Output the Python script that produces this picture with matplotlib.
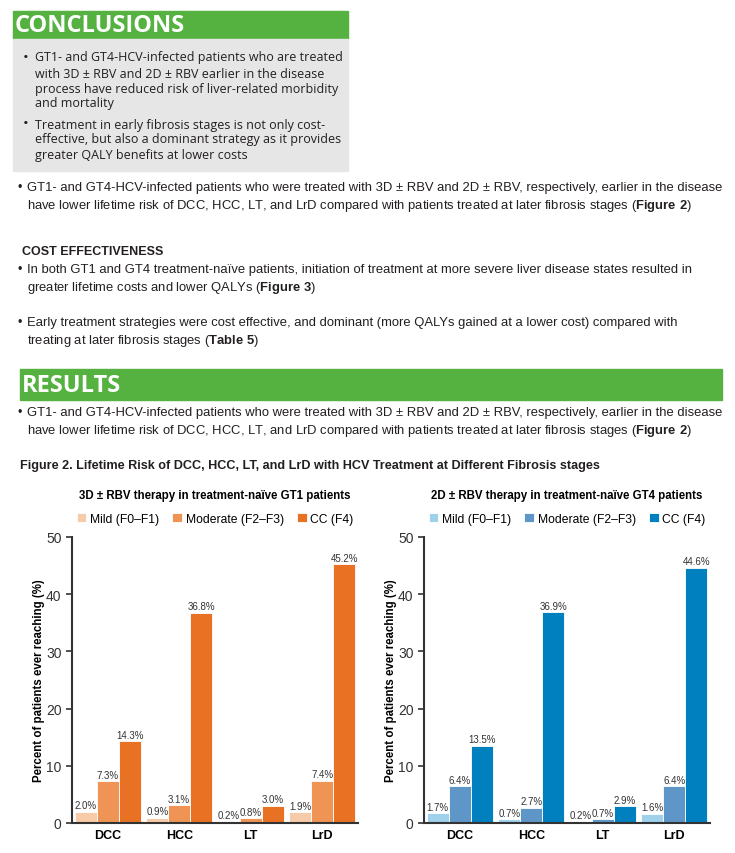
import matplotlib.pyplot as plt
from matplotlib.patches import Rectangle

W, H = 735, 854

# data
outcomes = ["DCC", "HCC", "LT", "LrD"]
stages = ["Mild (F0\u2013F1)", "Moderate (F2\u2013F3)", "CC (F4)"]
gt1_mild = [2.0, 0.9, 0.2, 1.9]
gt1_moderate = [7.3, 3.1, 0.8, 7.4]
gt1_cc = [14.3, 36.8, 3.0, 45.2]
gt4_mild = [1.7, 0.7, 0.2, 1.6]
gt4_moderate = [6.4, 2.7, 0.7, 6.4]
gt4_cc = [13.5, 36.9, 2.9, 44.6]
y_ticks = [0, 10, 20, 30, 40, 50]

orange = ["#F8CBA8", "#EF9455", "#E87123"]
blue = ["#9FD1EB", "#5E96C8", "#0080BE"]

body = ["Liberation Sans", "DejaVu Sans"]
head = ["Open Sans", "DejaVu Sans"]
green = "#55B240"
dark = "#231F20"

fig = plt.figure(figsize=(W / 100, H / 100), dpi=100)


def fx(x):
    return x / W


def fy(y):
    return 1 - y / H


def box(x0, y0, x1, y1, color):
    fig.patches.append(Rectangle((fx(x0), fy(y1)), (x1 - x0) / W, (y1 - y0) / H,
                                 transform=fig.transFigure, color=color, zorder=0))


def txt(x, y, s, size=9.4, family=body, **kw):
    fig.text(fx(x), fy(y), s, fontsize=size, family=family, va="center",
             color=kw.pop("color", dark), **kw)


# conclusions box
box(13, 12, 348, 40, green)
box(13, 40, 348, 172, "#E6E6E6")
txt(15, 26, "CONCLUSIONS", size=17, family=head, color="white", weight="bold")
concl = [
    (58, True, "GT1- and GT4-HCV-infected patients who are treated"),
    (74, False, "with 3D \u00b1 RBV and 2D \u00b1 RBV earlier in the disease"),
    (89, False, "process have reduced risk of liver-related morbidity"),
    (104, False, "and mortality"),
    (125, True, "Treatment in early fibrosis stages is not only cost-"),
    (140, False, "effective, but also a dominant strategy as it provides"),
    (155, False, "greater QALY benefits at lower costs"),
]
for y, bullet, s in concl:
    if bullet:
        txt(23, y, "\u2022", size=11, family=head)
    txt(35, y, s, size=9, family=head)

# results text
findings = "GT1- and GT4-HCV-infected patients who were treated with 3D \u00b1 RBV and 2D \u00b1 RBV, respectively, earlier in the disease"
findings2 = "have lower lifetime risk of DCC, HCC, LT, and LrD compared with patients treated at later fibrosis stages ($\\bf{Figure\\ 2}$)"


def bullet_par(y, lines):
    txt(17, y, "\u2022", size=9)
    for i, s in enumerate(lines):
        txt(27, y + 18 * i, s)


plt.rcParams["mathtext.fontset"] = "custom"
plt.rcParams["mathtext.bf"] = "Liberation Sans:bold"

bullet_par(188, [findings, findings2])
txt(22, 252, "COST EFFECTIVENESS", weight="bold", size=9)
bullet_par(270, ["In both GT1 and GT4 treatment-na\u00efve patients, initiation of treatment at more severe liver disease states resulted in",
                 "greater lifetime costs and lower QALYs ($\\bf{Figure\\ 3}$)"])
bullet_par(323, ["Early treatment strategies were cost effective, and dominant (more QALYs gained at a lower cost) compared with",
                 "treating at later fibrosis stages ($\\bf{Table\\ 5}$)"])

box(20, 370, 722, 401, green)
txt(22, 386, "RESULTS", size=17, family=head, color="white", weight="bold")
bullet_par(413, [findings, findings2])
txt(20, 466, "Figure 2. Lifetime Risk of DCC, HCC, LT, and LrD with HCV Treatment at Different Fibrosis stages",
    weight="bold", size=9.1)


def panel(left, title, series, colors):
    ax = fig.add_axes([fx(left), fy(824), 286 / W, 286 / H])
    width = 0.307
    for i, vals in enumerate(series):
        xs = [k + (i - 1) * width for k in range(len(outcomes))]
        bars = ax.bar(xs, vals, width, color=colors[i], edgecolor="white",
                      linewidth=0.6, label=stages[i])
        ax.bar_label(bars, labels=[f"{v:.1f}%" for v in vals], padding=1,
                     fontsize=7, color="#333333", family=body)
    ax.set_xlim(-0.5, 3.5)
    ax.set_ylim(0, 50)
    ax.set_yticks(y_ticks)
    ax.set_xticks(range(len(outcomes)))
    ax.set_xticklabels(outcomes, fontsize=9, weight="bold", family=body)
    ax.tick_params(axis="x", length=0, pad=4)
    ax.tick_params(axis="y", length=4, width=1.2, labelsize=10, color="#333333",
                   labelcolor="#333333")
    for lab in ax.get_yticklabels():
        lab.set_family(body)
    for s in ["top", "right"]:
        ax.spines[s].set_visible(False)
    for s in ["left", "bottom"]:
        ax.spines[s].set_linewidth(1.5)
        ax.spines[s].set_color("#333333")
    ax.set_ylabel("Percent of patients ever reaching (%)", fontsize=8.3, weight="bold",
                  family=body, labelpad=1)
    ax.set_title(title, fontsize=8.3, weight="bold", family=body, pad=28)
    ax.legend(loc="lower center", bbox_to_anchor=(0.5, 1.0), ncol=3, frameon=False,
              handlelength=0.8, handleheight=0.8, handletextpad=0.3,
              columnspacing=1.1, borderaxespad=0.6, prop={"family": body, "size": 8.7})
    return ax


panel(72, "3D \u00b1 RBV therapy in treatment-na\u00efve GT1 patients",
      [gt1_mild, gt1_moderate, gt1_cc], orange)
panel(424, "2D \u00b1 RBV therapy in treatment-na\u00efve GT4 patients",
      [gt4_mild, gt4_moderate, gt4_cc], blue)

fig.savefig("out.png", dpi=100)
